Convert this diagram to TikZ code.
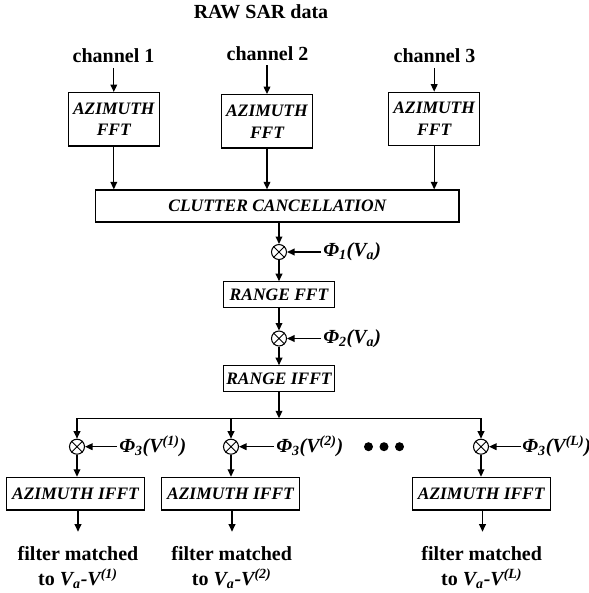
\documentclass[tikz,border=0pt]{standalone}
\usepackage{fontspec}
\setmainfont{Liberation Serif}
\usetikzlibrary{arrows.meta}
\begin{document}
\begin{tikzpicture}[x=0.75pt,y=-0.75pt,
  lbl/.style={font=\fontsize{15}{18.75}\selectfont\bfseries,align=center},
  box/.style={draw,line width=0.95pt,font=\fontsize{13.1}{16.3}\selectfont\bfseries\itshape,inner sep=0pt,align=center},
  fftbox/.style={box,minimum width=68.25pt,minimum height=40pt},
  rbox/.style={box,minimum width=83.25pt,minimum height=19pt},
  ibox/.style={box,minimum width=103.5pt,minimum height=24.5pt},
  mix/.style={draw,circle,line width=0.8pt,minimum size=11.25pt,inner sep=0pt},
  arr/.style={line width=1pt,-{Triangle[length=5.6pt,width=5pt]}},
  phi/.style={anchor=west,inner sep=1.5pt,font=\fontsize{15}{18}\selectfont\bfseries\itshape},
  dotn/.style={circle,fill,inner sep=0pt,minimum size=6.75pt}
]
\useasboundingbox (0,0) rectangle (589,593);

% top labels
\node[lbl] (raw) at (261,12) {RAW SAR data};
\node[lbl] (ch1) at (113.5,56) {channel 1};
\node[lbl] (ch2) at (267.5,53.5) {channel 2};
\node[lbl] (ch3) at (434.5,56) {channel 3};

% azimuth FFT boxes
\node[fftbox] (fft1) at (113.8,119.3) {AZIMUTH\\FFT};
\node[fftbox] (fft2) at (267,121.4) {AZIMUTH\\FFT};
\node[fftbox] (fft3) at (434.2,119) {AZIMUTH\\FFT};

\draw[arr] (fft1.north |- ch1.south) -- (fft1.north);
\draw[arr] (fft2.north |- ch2.south) -- (fft2.north);
\draw[arr] (fft3.north |- ch3.south) -- (fft3.north);

% clutter cancellation
\node[box,minimum width=272.5pt,minimum height=24pt] (clut) at (277.3,206) {CLUTTER CANCELLATION};
\draw[arr] (fft1.south) -- (fft1.south |- clut.north);
\draw[arr] (fft2.south) -- (fft2.south |- clut.north);
\draw[arr] (fft3.south) -- (fft3.south |- clut.north);

% chain
\node[mix] (m1) at (279,252) {};
\node[phi] (phi1) at (321,252) {Φ\textsubscript{1}(V\textsubscript{a})};
\node[rbox] (rfft) at (279,294.5) {RANGE FFT};
\node[mix] (m2) at (279,338.5) {};
\node[phi] (phi2) at (321,338.5) {Φ\textsubscript{2}(V\textsubscript{a})};
\node[rbox] (rifft) at (279,378.5) {RANGE IFFT};

\draw[arr] (m1 |- clut.south) -- (m1.north);
\draw[arr] (phi1.west) -- (m1.east);
\draw[arr] (m1.south) -- (rfft.north);
\draw[arr] (rfft.south) -- (m2.north);
\draw[arr] (phi2.west) -- (m2.east);
\draw[arr] (m2.south) -- (rifft.north);

% branches
\coordinate (bc) at (279,418.3);
\node[mix] (m3a) at (77,446.7) {};
\node[mix] (m3b) at (231,446.7) {};
\node[mix] (m3c) at (481,446.7) {};
\node[phi] (phi3a) at (117,446.7) {Φ\textsubscript{3}(V\textsuperscript{(1)})};
\node[phi] (phi3b) at (274,446.7) {Φ\textsubscript{3}(V\textsuperscript{(2)})};
\node[phi,inner sep=0.8pt] (phi3c) at (521,446.7) {Φ\textsubscript{3}(V\textsuperscript{(L)})};
\node[dotn] (d1) at (368.5,446.7) {};
\node[dotn] (d2) at (384,446.7) {};
\node[dotn] (d3) at (399.5,446.7) {};

\draw[arr] (rifft.south) -- (bc);
\draw[arr] (bc) -- (m3a |- bc) -- (m3a.north);
\draw[arr] (bc) -- (m3c |- bc) -- (m3c.north);
\draw[arr] (m3b |- bc) -- (m3b.north);
\draw[arr] (phi3a.west) -- (m3a.east);
\draw[arr] (phi3b.west) -- (m3b.east);
\draw[arr] (phi3c.west) -- (m3c.east);

% crosses in mixers
\foreach \m in {m1,m2,m3a,m3b,m3c}{
  \draw[line width=0.6pt] (\m.north west) -- (\m.south east) (\m.north east) -- (\m.south west);
}

% azimuth IFFT boxes
\node[ibox] (a1) at (75.5,493.7) {AZIMUTH IFFT};
\node[ibox] (a2) at (230.5,493.7) {AZIMUTH IFFT};
\node[ibox] (a3) at (481.2,493.7) {AZIMUTH IFFT};
\draw[arr] (m3a.south) -- (m3a |- a1.north);
\draw[arr] (m3b.south) -- (m3b |- a2.north);
\draw[arr] (m3c.south) -- (m3c |- a3.north);

% outputs
\coordinate (e1) at (78,531.7);
\coordinate (e2) at (232,531.7);
\coordinate (e3) at (482.5,531.7);
\draw[arr] (e1 |- a1.south) -- (e1);
\draw[arr] (e2 |- a2.south) -- (e2);
\draw[arr] (e3 |- a3.south) -- (e3);

\node[lbl] (o1) at (78,567.5) {filter matched\\to \textit{V\textsubscript{a}-V\textsuperscript{(1)}}};
\node[lbl] (o2) at (231.7,567.5) {filter matched\\to \textit{V\textsubscript{a}-V\textsuperscript{(2)}}};
\node[lbl] (o3) at (481.7,567.5) {filter matched\\to \textit{V\textsubscript{a}-V\textsuperscript{(L)}}};
\end{tikzpicture}
\end{document}
